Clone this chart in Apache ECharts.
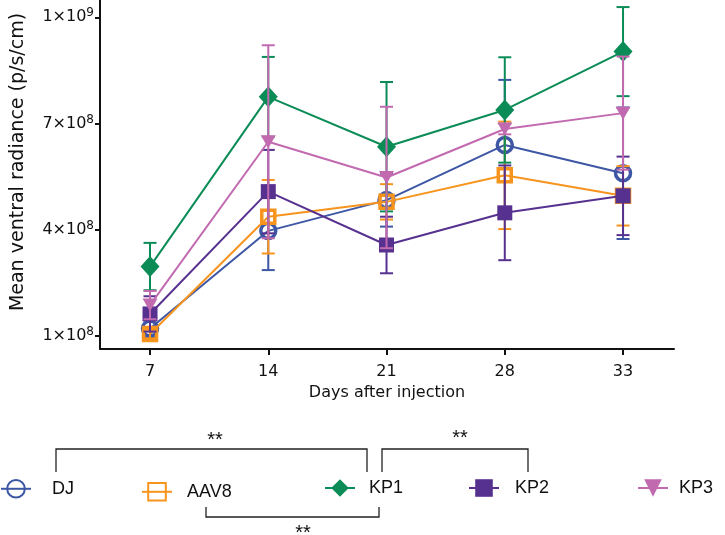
<!DOCTYPE html>
<html>
<head>
<meta charset="utf-8">
<script src="https://cdn.jsdelivr.net/npm/echarts@6/dist/echarts.min.js"></script>
<style>html,body{margin:0;padding:0;background:#fff}#c{width:725px;height:535px}</style>
</head>
<body>
<div id="c"></div>
<script>
// ---- data ----
const days = ['7', '14', '21', '28', '33'];
const groups = ['DJ', 'AAV8', 'KP1', 'KP2', 'KP3'];
const meanDJ   = [1.20e8, 3.96e8, 4.83e8, 6.39e8, 5.59e8];
const meanAAV8 = [1.04e8, 4.36e8, 4.78e8, 5.53e8, 4.95e8];
const meanKP1  = [2.95e8, 7.75e8, 6.34e8, 7.38e8, 9.03e8];
const meanKP2  = [1.61e8, 5.07e8, 3.56e8, 4.47e8, 4.95e8];
const meanKP3  = [1.86e8, 6.48e8, 5.47e8, 6.84e8, 7.29e8];
const errDJ    = [0.25e8, 1.11e8, 0.75e8, 1.84e8, 1.86e8];
const errAAV8  = [0.12e8, 1.04e8, 0.50e8, 1.52e8, 0.84e8];
const errKP1   = [0.67e8, 1.13e8, 1.83e8, 1.49e8, 1.26e8];
const errKP2   = [0.50e8, 1.18e8, 0.80e8, 1.34e8, 1.11e8];
const errKP3   = [0.40e8, 2.73e8, 2.00e8, 0.15e8, 1.60e8];
const yTicks = [1e8, 4e8, 7e8, 1e9];
const xTicks = [0, 1, 2, 3, 4];

const means = [meanDJ, meanAAV8, meanKP1, meanKP2, meanKP3];
const errs = [errDJ, errAAV8, errKP1, errKP2, errKP3];
const colors = ['#3D57A5', '#F7941D', '#0B8C57', '#57318F', '#C26AB0'];
const symbols = [
  {symbol: 'circle', symbolSize: 15, hollow: true, bw: 3.5},
  {symbol: 'rect', symbolSize: 13, hollow: true, bw: 3.5},
  {symbol: 'diamond', symbolSize: [19, 21]},
  {symbol: 'rect', symbolSize: 15},
  {symbol: 'triangle', symbolSize: [15, 13], rotate: 180}
];
const legendLeft = [0, 141, 324, 468, 637];
const legendTop = [479, 482, 479, 479, 479];
const legendTextGap = [16, 10, 9, 11, 6];

const AXFONT = 'DejaVu Sans, Verdana, sans-serif';
const FONT = 'Liberation Sans, Arial, sans-serif';

const series = [];
groups.forEach((g, i) => {
  const s = symbols[i];
  series.push({
    name: g,
    type: 'line',
    data: means[i].map((v, j) => [xTicks[j], v]),
    symbol: s.symbol,
    symbolSize: s.symbolSize,
    symbolRotate: s.rotate || 0,
    lineStyle: {color: colors[i], width: 2},
    itemStyle: s.hollow
      ? {color: 'rgba(255,255,255,0)', borderColor: colors[i], borderWidth: s.bw}
      : {color: colors[i], borderWidth: 0},
    z: 2 + i * 2,
    animation: false
  });
  series.push({
    name: g,
    type: 'custom',
    data: means[i].map((v, j) => [xTicks[j], v - errs[i][j], v + errs[i][j]]),
    encode: {x: 0, y: [1, 2]},
    z: 3 + i * 2,
    renderItem: function (params, api) {
      const x = api.value(0);
      const lo = api.coord([x, api.value(1)]);
      const hi = api.coord([x, api.value(2)]);
      const hw = 6.5;
      const st = {stroke: colors[i], lineWidth: 2};
      return {
        type: 'group',
        children: [
          {type: 'line', shape: {x1: lo[0], y1: lo[1], x2: hi[0], y2: hi[1]}, style: st},
          {type: 'line', shape: {x1: lo[0] - hw, y1: lo[1], x2: lo[0] + hw, y2: lo[1]}, style: st},
          {type: 'line', shape: {x1: hi[0] - hw, y1: hi[1], x2: hi[0] + hw, y2: hi[1]}, style: st}
        ]
      };
    },
    animation: false
  });
});

const legends = groups.map((g, i) => ({
  data: [g],
  left: legendLeft[i],
  top: legendTop[i],
  orient: 'horizontal',
  padding: 0,
  itemWidth: 30,
  itemHeight: 22,
  selectedMode: false,
  textStyle: {fontFamily: FONT, fontSize: 18, color: '#111', padding: [0, 0, 0, legendTextGap[i]]}
}));

const bracketStyle = {stroke: '#222', lineWidth: 1.3, fill: null};
const starStyle = {text: '**', fontFamily: FONT, fontSize: 20, fill: '#111', textAlign: 'center', textVerticalAlign: 'middle'};
const graphics = [
  {type: 'text', x: 18, y: 162, rotation: Math.PI / 2,
    style: {text: 'Mean ventral radiance (p/s/cm)', fontFamily: AXFONT, fontSize: 19, fill: '#111', textAlign: 'center', textVerticalAlign: 'middle'}},
  {type: 'polyline', shape: {points: [[56, 472], [56, 449], [367, 449], [367, 472]]}, style: bracketStyle},
  {type: 'polyline', shape: {points: [[382, 472], [382, 449], [528, 449], [528, 472]]}, style: bracketStyle},
  {type: 'polyline', shape: {points: [[206, 507], [206, 517], [379, 517], [379, 507]]}, style: bracketStyle},
  {type: 'text', x: 215, y: 440, style: Object.assign({}, starStyle)},
  {type: 'text', x: 460, y: 438, style: Object.assign({}, starStyle)},
  {type: 'text', x: 303, y: 533, style: Object.assign({}, starStyle)}
];

const chart = echarts.init(document.getElementById('c'), null, {renderer: 'canvas'});
chart.setOption({
  backgroundColor: '#fff',
  animation: false,
  grid: {left: 100, right: 51, top: 0, bottom: 186, containLabel: false},
  xAxis: {
    type: 'value',
    min: -0.423, max: 4.431,
    name: 'Days after injection',
    nameLocation: 'middle',
    nameGap: 36,
    nameTextStyle: {fontFamily: AXFONT, fontSize: 16, color: '#111', verticalAlign: 'top'},
    axisLine: {show: true, onZero: false, lineStyle: {color: '#111', width: 2}},
    axisTick: {show: true, length: 6, lineStyle: {color: '#111', width: 2}, customValues: xTicks},
    axisLabel: {customValues: xTicks, formatter: v => days[Math.round(v)], fontFamily: AXFONT, fontSize: 16, color: '#111', margin: 15},
    splitLine: {show: false}
  },
  yAxis: {
    type: 'value',
    min: 0.618e8, max: 1.049e9,
    axisLine: {show: true, onZero: false, lineStyle: {color: '#111', width: 2}},
    axisTick: {show: true, length: 5, lineStyle: {color: '#111', width: 2}, customValues: yTicks},
    axisLabel: {
      customValues: yTicks,
      fontFamily: AXFONT, fontSize: 16, color: '#111', margin: 6,
      formatter: function (v) {
        const e = Math.floor(Math.log10(v) + 1e-9);
        const m = Math.round(v / Math.pow(10, e));
        return m + '×10{sup|' + e + '}';
      },
      rich: {sup: {fontFamily: AXFONT, fontSize: 12, color: '#111', verticalAlign: 'top', padding: [0, 0, 8, 0]}}
    },
    splitLine: {show: false}
  },
  legend: legends,
  graphic: graphics,
  series: series
});
</script>
</body>
</html>
